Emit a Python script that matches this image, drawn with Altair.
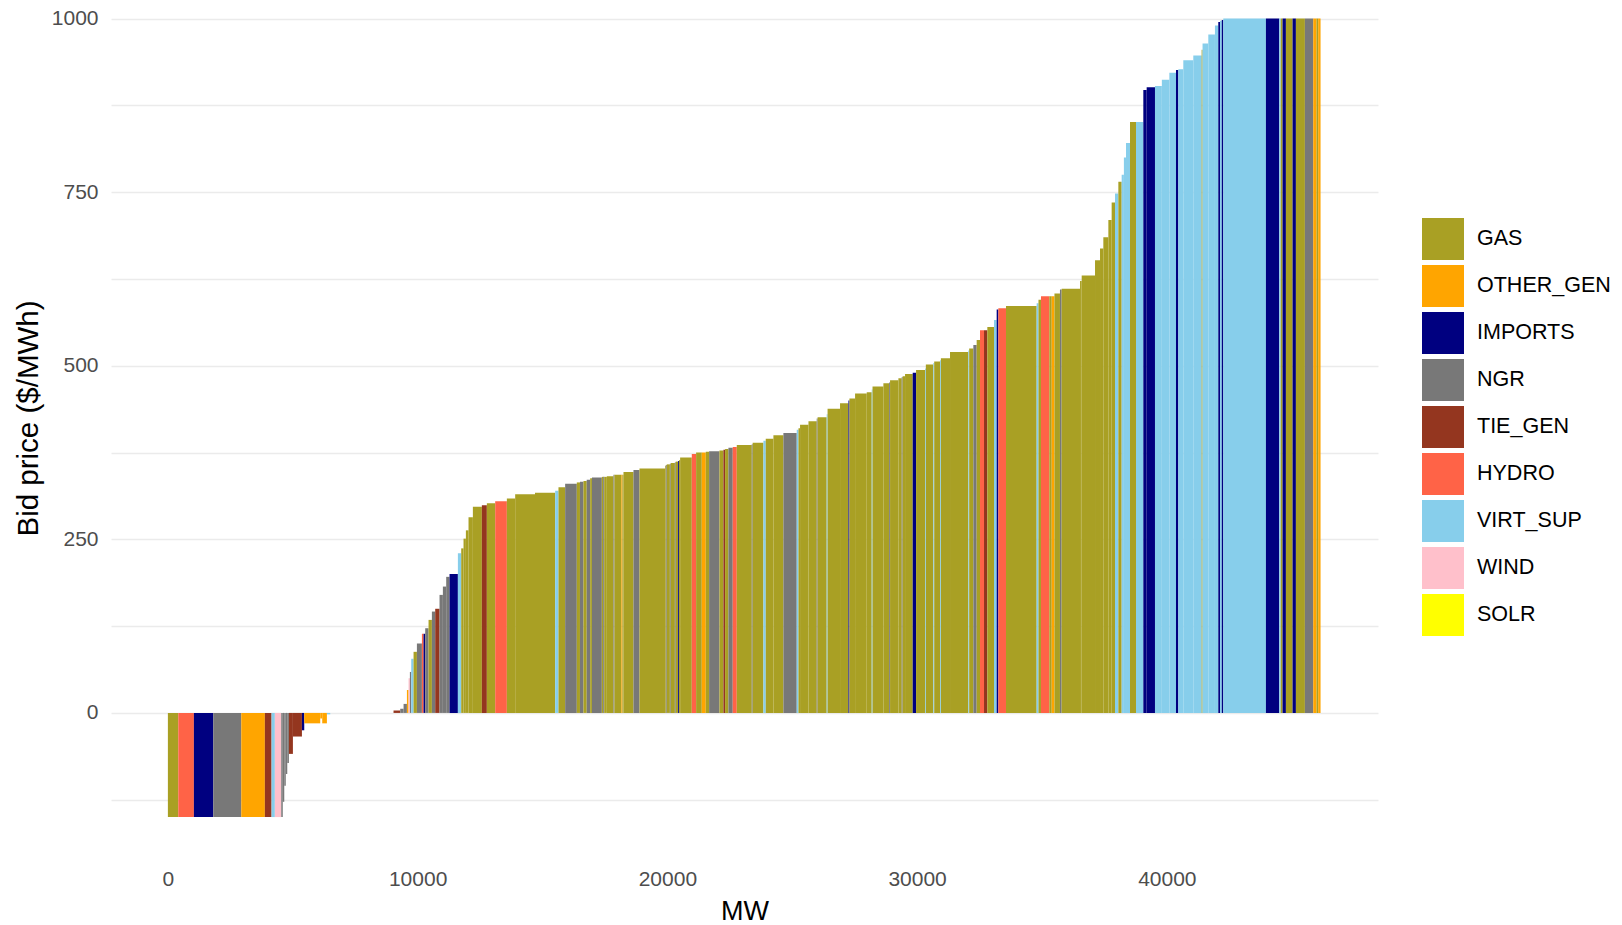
import altair as alt
import pandas as pd

# Bid stack: one block per bid, in merit order (quantity in MW, price in $/MWh, resource type)
BID_MW = [
    416, 625, 777, 1120, 945, 268, 132, 256, 61, 60,
    60, 60, 66, 160, 361, 93, 640, 80, 187, 134,
    2534, 268, 134, 134, 66, 53, 54, 93, 134, 200,
    66, 67, 133, 134, 133, 173, 134, 133, 134, 334,
    133, 93, 94, 106, 174, 360, 200, 334, 467, 333,
    794, 807, 133, 267, 467, 126, 140, 130, 139, 71,
    396, 54, 40, 106, 267, 37, 280, 40, 43, 400,
    240, 1028, 29, 35, 125, 35, 165, 35, 95, 35,
    46, 467, 173, 227, 160, 133, 414, 160, 66, 134,
    173, 161, 600, 36, 431, 93, 307, 400, 534, 70,
    63, 337, 330, 35, 365, 35, 499, 336, 40, 226,
    467, 200, 32, 435, 230, 37, 334, 133, 36, 97,
    307, 134, 360, 32, 301, 34, 233, 34, 366, 734,
    33, 167, 133, 134, 160, 133, 267, 107, 67, 306,
    1228, 73, 100, 334, 96, 110, 220, 67, 737, 66,
    534, 200, 133, 201, 132, 134, 134, 133, 89, 85,
    160, 240, 293, 134, 333, 275, 300, 266, 93, 200,
    400, 334, 37, 230, 266, 134, 70, 70, 60, 1707,
    534, 59, 74, 134, 266, 134, 360, 334, 133, 65,
    95,
]

BID_PRICE = [
    -150, -150, -150, -150, -150, -150, -150, -150, -150, -128,
    -105, -88, -72, -59, -34, -25, -15, -8, -15, -2,
    0, 3.5, 6, 13, 33, 50, 59, 78, 88, 100,
    114, 114, 122, 134, 146, 150, 170, 182, 196, 200,
    230, 237, 251, 263, 282, 297, 299, 302, 305, 309,
    315, 317, 320, 325, 330, 332, 333, 334, 336, 338,
    339, 340, 340, 340, 341, 343, 343, 343, 343, 347,
    350, 352, 356, 357, 358, 359, 360, 361, 362, 363,
    364, 368, 373, 375, 375, 376, 377, 378, 379, 380,
    382, 383, 386, 387, 389, 392, 395, 400, 403, 408,
    410, 415, 420, 424, 426, 430, 438, 446, 450, 453,
    460, 462, 466, 470, 475, 476, 479, 482, 484, 485,
    488, 490, 494, 496, 502, 504, 506, 508, 511, 520,
    522, 525, 530, 537, 551, 551, 556, 566, 581, 583,
    586, 590, 595, 600, 600, 600, 604, 610, 611, 622,
    630, 652, 669, 685, 710, 735, 748, 765, 775, 800,
    821, 851, 851, 897, 901, 903, 912, 922, 926, 927,
    940, 947, 955, 964, 977, 990, 995, 997, 998, 1000,
    1000, 1000, 1000, 1000, 1000, 1000, 1000, 1000, 1000, 1000,
    1000,
]

BID_FUEL = [
    "GAS", "HYDRO", "IMPORTS", "NGR", "OTHER_GEN", "TIE_GEN", "VIRT_SUP", "WIND", "NGR", "NGR",
    "NGR", "NGR", "NGR", "TIE_GEN", "TIE_GEN", "IMPORTS", "OTHER_GEN", "OTHER_GEN", "OTHER_GEN", "VIRT_SUP",
    "SOLR", "TIE_GEN", "NGR", "NGR", "OTHER_GEN", "WIND", "NGR", "VIRT_SUP", "GAS", "NGR",
    "HYDRO", "IMPORTS", "NGR", "GAS", "NGR", "TIE_GEN", "NGR", "NGR", "NGR", "IMPORTS",
    "VIRT_SUP", "GAS", "GAS", "GAS", "GAS", "GAS", "TIE_GEN", "GAS", "HYDRO", "GAS",
    "GAS", "GAS", "VIRT_SUP", "GAS", "NGR", "GAS", "NGR", "GAS", "NGR", "GAS",
    "NGR", "GAS", "NGR", "GAS", "GAS", "NGR", "GAS", "OTHER_GEN", "GAS", "GAS",
    "NGR", "GAS", "GAS", "NGR", "GAS", "NGR", "GAS", "NGR", "GAS", "IMPORTS",
    "GAS", "GAS", "HYDRO", "GAS", "OTHER_GEN", "GAS", "NGR", "GAS", "TIE_GEN", "GAS",
    "NGR", "HYDRO", "GAS", "NGR", "GAS", "VIRT_SUP", "GAS", "GAS", "NGR", "VIRT_SUP",
    "GAS", "GAS", "GAS", "NGR", "GAS", "VIRT_SUP", "GAS", "GAS", "IMPORTS", "GAS",
    "GAS", "GAS", "VIRT_SUP", "GAS", "GAS", "NGR", "GAS", "GAS", "NGR", "GAS",
    "GAS", "IMPORTS", "GAS", "VIRT_SUP", "GAS", "VIRT_SUP", "GAS", "VIRT_SUP", "GAS", "GAS",
    "VIRT_SUP", "GAS", "NGR", "GAS", "HYDRO", "TIE_GEN", "GAS", "VIRT_SUP", "IMPORTS", "HYDRO",
    "GAS", "VIRT_SUP", "GAS", "HYDRO", "GAS", "OTHER_GEN", "GAS", "NGR", "GAS", "GAS",
    "GAS", "GAS", "GAS", "GAS", "GAS", "GAS", "VIRT_SUP", "GAS", "VIRT_SUP", "VIRT_SUP",
    "VIRT_SUP", "GAS", "VIRT_SUP", "IMPORTS", "IMPORTS", "VIRT_SUP", "VIRT_SUP", "VIRT_SUP", "IMPORTS", "VIRT_SUP",
    "VIRT_SUP", "VIRT_SUP", "GAS", "VIRT_SUP", "VIRT_SUP", "VIRT_SUP", "IMPORTS", "VIRT_SUP", "IMPORTS", "VIRT_SUP",
    "IMPORTS", "VIRT_SUP", "GAS", "IMPORTS", "GAS", "IMPORTS", "GAS", "NGR", "OTHER_GEN", "GAS",
    "OTHER_GEN",
]

FUEL_ORDER = ["GAS", "OTHER_GEN", "IMPORTS", "NGR", "TIE_GEN", "HYDRO", "VIRT_SUP", "WIND", "SOLR"]
FUEL_COLORS = ["#A9A024", "#FFA500", "#000080", "#787878", "#94361F", "#FF6347", "#87CEEB", "#FFC0CB", "#FFFF00"]

Y_TICKS = [-125, 0, 125, 250, 375, 500, 625, 750, 875, 1000]
X_TICKS = [0, 10000, 20000, 30000, 40000]

assert len(BID_MW) == len(BID_PRICE) == len(BID_FUEL)

bids = pd.DataFrame({"mw": BID_MW, "price": BID_PRICE, "fuel": BID_FUEL})
bids["mw_end"] = bids["mw"].cumsum()
bids["mw_start"] = bids["mw_end"] - bids["mw"]
bids["base"] = 0

FONT = "Liberation Sans"

chart = (
    alt.Chart(bids)
    .mark_rect(strokeWidth=0)
    .encode(
        x=alt.X(
            "mw_start:Q",
            title="MW",
            scale=alt.Scale(domain=[-2278, 48455], nice=False, zero=False),
            axis=alt.Axis(
                values=X_TICKS,
                format="d",
                grid=False,
                ticks=False,
                domain=False,
                labelFontSize=21,
                labelColor="#4D4D4D",
                labelPadding=11,
                titleFontSize=27,
                titleFontWeight="normal",
                titleColor="#000000",
                titlePadding=9,
            ),
        ),
        x2="mw_end:Q",
        y=alt.Y(
            "price:Q",
            title="Bid price ($/MWh)",
            scale=alt.Scale(domain=[-207.5, 1026.8], nice=False, zero=False),
            axis=alt.Axis(
                values=Y_TICKS,
                format="d",
                labelExpr="datum.value % 250 == 0 ? datum.label : ''",
                grid=True,
                gridColor="#EBEBEB",
                gridWidth=1.6,
                ticks=False,
                domain=False,
                labelFontSize=21,
                labelColor="#4D4D4D",
                labelPadding=13,
                titleFontSize=29.5,
                titleFontWeight="normal",
                titleColor="#000000",
                titleY=418,
                titleX=-68,
                titleBaseline="bottom",
                titleAngle=270,
                titleAlign="center",
            ),
        ),
        y2="base:Q",
        color=alt.Color(
            "fuel:N",
            scale=alt.Scale(domain=FUEL_ORDER, range=FUEL_COLORS),
            legend=alt.Legend(
                title=None,
                orient="none",
                legendX=1311,
                legendY=218,
                symbolType="square",
                symbolSize=1764,
                symbolStrokeWidth=0,
                symbolOpacity=1,
                rowPadding=5,
                labelOffset=13,
                labelFontSize=21.5,
                labelColor="#000000",
                labelFont=FONT,
            ),
        ),
    )
    .properties(
        width=1267,
        height=857,
        autosize=alt.AutoSizeParams(type="none"),
        padding={"left": 111, "top": 0, "right": 244, "bottom": 68},
    )
    .configure(font=FONT)
    .configure_view(stroke=None)
    .configure_axis(labelFont=FONT, titleFont=FONT)
)

chart.save("out.html", embed_options={"renderer": "svg", "actions": False})
